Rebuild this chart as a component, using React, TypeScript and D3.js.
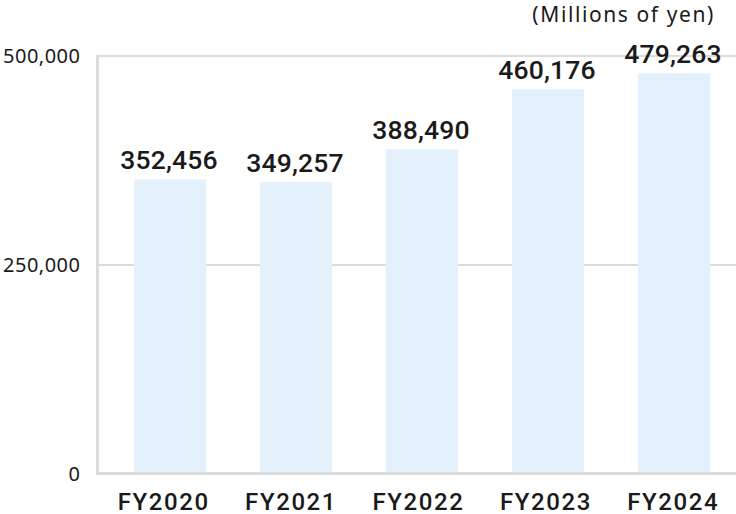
import React from "react";
import * as d3 from "d3";

const categories = ["FY2020", "FY2021", "FY2022", "FY2023", "FY2024"];
const values = [352456, 349257, 388490, 460176, 479263];
const yTicks = [0, 250000, 500000];
const unitLabel = "(Millions of yen)";

const W = 736;
const H = 514;
const FONT = "'Noto Sans', 'DejaVu Sans', sans-serif";
const FONT_M = "Roboto, 'Noto Sans', sans-serif";

export default function App() {
  const xb = d3.scaleBand<string>().domain(categories).range([107, 737]);
  const xl = d3.scaleBand<string>().domain(categories).range([99, 736]);
  const y = d3.scaleLinear().domain([0, 500000]).range([474, 56]);
  const fmt = d3.format(",");
  const bw = xb.bandwidth() * 0.571;

  return (
    <svg width={W} height={H} style={{ position: "absolute", left: 0, top: 0 }}>
      <rect width={W} height={H} fill="#fff" />
      {yTicks.filter((t) => t > 0).map((t) => (
        <line key={t} x1={98} x2={W} y1={y(t)} y2={y(t)} stroke="#dcdcdc" strokeWidth={2} />
      ))}
      {categories.map((c, i) => {
        const cx = (xb(c) as number) + xb.bandwidth() / 2;
        const lx = (xl(c) as number) + xl.bandwidth() / 2;
        return (
          <g key={c}>
            <rect x={cx - bw / 2} y={y(values[i])} width={bw} height={y(0) - y(values[i])} fill="#e4f1fd" />
            <text x={cx - 1} y={y(values[i]) - 10.5} textAnchor="middle" fontFamily={FONT_M} fontSize={26.5} fontWeight={500} letterSpacing={0.2} fill="#1a1a1a">
              {fmt(values[i])}
            </text>
            <text x={lx + 1} y={509.5} textAnchor="middle" fontFamily={FONT_M} fontSize={24} fontWeight={500} letterSpacing={1.6} fill="#1a1a1a">
              {c}
            </text>
          </g>
        );
      })}
      <line x1={97.5} x2={97.5} y1={55} y2={475} stroke="#dcdcdc" strokeWidth={3} />
      <line x1={96} x2={W} y1={473.5} y2={473.5} stroke="#dcdcdc" strokeWidth={3} />
      {yTicks.map((t) => (
        <text key={t} x={80.5} y={y(t) + 7} textAnchor="end" fontFamily={FONT} fontSize={20} letterSpacing={0.5} fill="#1a1a1a">
          {fmt(t)}
        </text>
      ))}
      <text x={715} y={21.5} textAnchor="end" fontFamily={FONT} fontSize={21} letterSpacing={1.6} fill="#1a1a1a">
        {unitLabel}
      </text>
    </svg>
  );
}
